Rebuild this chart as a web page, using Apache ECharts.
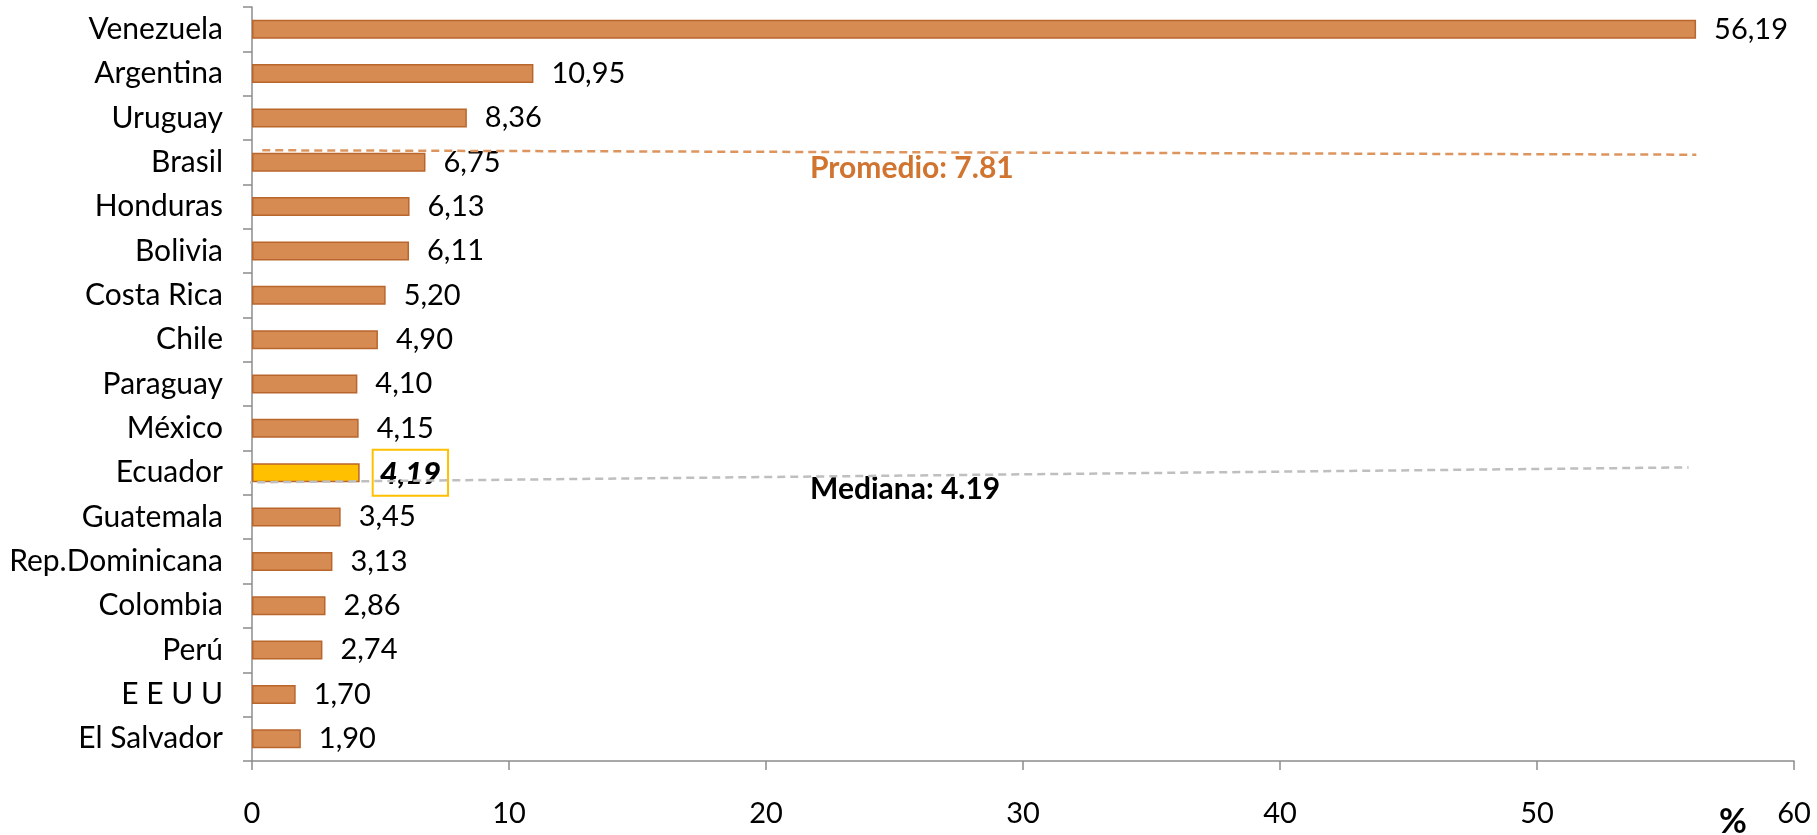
<!DOCTYPE html>
<html>
<head>
<meta charset="utf-8">
<script src="https://cdn.jsdelivr.net/npm/echarts@6/dist/echarts.min.js"></script>
<style>
html,body{margin:0;padding:0;background:#fff;}
#c{width:1817px;height:835px;}
</style>
</head>
<body>
<div id="c"></div>
<script>
var categories = ["Venezuela","Argentina","Uruguay","Brasil","Honduras","Bolivia","Costa Rica","Chile","Paraguay","México","Ecuador","Guatemala","Rep.Dominicana","Colombia","Perú","E E U U","El Salvador"];
var values = [56.19,10.95,8.36,6.75,6.13,6.11,5.20,4.90,4.10,4.15,4.19,3.45,3.13,2.86,2.74,1.70,1.90];
var highlight = "Ecuador";
var xTicks = [0,10,20,30,40,50,60];
// annotation lines drawn as shapes in the original (x value, category position)
var avgLine = [[0.4, 2.73],[56.2, 2.83]];
var medLine = [[-0.3, 10.22],[55.9, 9.88]];

var mean = values.reduce(function(a,b){return a+b;},0)/values.length;
var sorted = values.slice().sort(function(a,b){return a-b;});
var median = sorted[Math.floor(sorted.length/2)];

var FONT = "Lato";
var fmt = function(v){return v.toFixed(2).replace('.', ',');};

var barData = values.map(function(v,i){
  var item = {value:v};
  if (categories[i] === highlight) {
    item.itemStyle = {color:'#FFC000', borderColor:'#B9662D'};
    item.label = {
      formatter: function(p){return '{b|'+fmt(p.value)+'}';},
      distance: 13,
      rich: {b:{fontFamily:FONT,fontSize:31,fontWeight:900,fontStyle:'italic',color:'#000'}},
      borderColor:'#FFC000', borderWidth:2, padding:[9,7,6,7]
    };
  }
  return item;
});

var chart = echarts.init(document.getElementById('c'), null, {renderer:'canvas'});
chart.setOption({
  animation:false,
  backgroundColor:'#fff',
  grid:{left:252,right:23,top:7,bottom:74,containLabel:false},
  xAxis:{
    type:'value', min:xTicks[0], max:xTicks[xTicks.length-1], interval:10,
    splitLine:{show:false},
    axisLine:{show:true,onZero:false,lineStyle:{color:'#8c8c8c',width:1.5}},
    axisTick:{show:true,length:9,lineStyle:{color:'#8c8c8c',width:1.5}},
    axisLabel:{fontFamily:FONT,fontSize:29,color:'#000',margin:38}
  },
  yAxis:[{
    type:'category', data:categories, inverse:true,
    axisLine:{show:true,onZero:false,lineStyle:{color:'#8c8c8c',width:1.5}},
    axisTick:{show:true,length:9,alignWithLabel:false,lineStyle:{color:'#8c8c8c',width:1.5}},
    axisLabel:{fontFamily:FONT,fontSize:30,color:'#000',margin:29}
  },{
    type:'value', inverse:true, min:-0.5, max:categories.length-0.5, show:false
  }],
  series:[{
    type:'bar', data:barData, barWidth:19,
    itemStyle:{color:'#D68B53',borderColor:'#B9662D',borderWidth:1.5},
    label:{show:true,position:'right',distance:18,fontFamily:FONT,fontSize:29,color:'#000',
      formatter:function(p){return fmt(p.value);}}
  },{
    type:'line', yAxisIndex:1, data:avgLine, symbol:'none', clip:false, silent:true,
    lineStyle:{color:'#DD9560',width:2.5,type:[8,5]}
  },{
    type:'line', yAxisIndex:1, data:medLine, symbol:'none', clip:false, silent:true,
    lineStyle:{color:'#BFBFBF',width:2.5,type:[8,5]}
  }],
  graphic:[
    {type:'text', left:810, top:153, style:{text:'Promedio: '+mean.toFixed(2), fontFamily:FONT, fontSize:30, fontWeight:'bold', fill:'#D0742F'}},
    {type:'text', left:810, top:474, style:{text:'Mediana: '+median.toFixed(2), fontFamily:FONT, fontSize:30, fontWeight:'bold', fill:'#000'}},
    {type:'text', left:1719, top:805, style:{text:'%', fontFamily:FONT, fontSize:34, fontWeight:'bold', fill:'#000'}}
  ]
});
</script>
</body>
</html>
